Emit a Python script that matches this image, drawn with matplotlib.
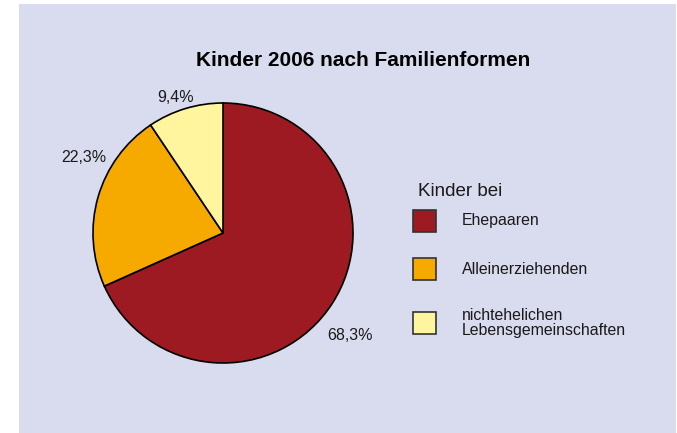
import matplotlib
matplotlib.use("Agg")
import matplotlib.pyplot as plt
from matplotlib.patches import Rectangle

plt.rcParams['font.family'] = ['Liberation Sans', 'DejaVu Sans']

title = "Kinder 2006 nach Familienformen"
legend_title = "Kinder bei"
categories = ["Ehepaaren", "Alleinerziehenden", "nichtehelichen\nLebensgemeinschaften"]
values = [68.3, 22.3, 9.4]
colors = ["#9d1a22", "#f6aa00", "#fff59e"]

W, H = 677, 433
fig = plt.figure(figsize=(W / 100, H / 100), dpi=100)
fig.patch.set_facecolor("white")

def fx(px):
    return px / W

def fy(py):
    return 1 - py / H

# lavender panel
fig.add_artist(Rectangle((fx(19), 0), fx(676) - fx(19), fy(4), transform=fig.transFigure,
                         facecolor="#d9dbee", edgecolor="none", zorder=0))

# pie axes: centre (223, 233), radius 130 px
cx, cy, r = 223, 233, 130
ax = fig.add_axes([fx(cx - r), fy(cy + r), 2 * r / W, 2 * r / H])
ax.axis("off")
wedges, _ = ax.pie(values, colors=colors, startangle=90, counterclock=False,
                   wedgeprops=dict(edgecolor="black", linewidth=1.2), radius=1.0, frame=False)
ax.set_aspect("equal")
ax.set_xlim(-1.0, 1.0)
ax.set_ylim(-1.0, 1.0)

# percentage labels (positions in px)
label_pos = [(350, 335), (84, 158), (176, 97)]
for v, (px, py) in zip(values, label_pos):
    fig.text(fx(px), fy(py), f"{v:.1f}".replace(".", ",") + "%", ha="center", va="center",
             fontsize=11.5, color="#1a1a1a")

fig.text(fx(363), fy(60), title, ha="center", va="center", fontsize=15, fontweight="bold",
         color="black")

# legend
fig.text(fx(418), fy(192), legend_title, ha="left", va="center", fontsize=13.5, color="#1a1a1a")
sq_y = [221, 269, 323]
for cat, col, y in zip(categories, colors, sq_y):
    fig.add_artist(Rectangle((fx(413), fy(y + 11)), 23 / W, 22 / H, transform=fig.transFigure,
                             facecolor=col, edgecolor="#333333", linewidth=1.2))
    fig.text(fx(462), fy(y), cat, ha="left", va="center", fontsize=11.4, color="#1a1a1a",
             linespacing=0.95)

fig.savefig("out.png", dpi=100, facecolor=fig.get_facecolor())
